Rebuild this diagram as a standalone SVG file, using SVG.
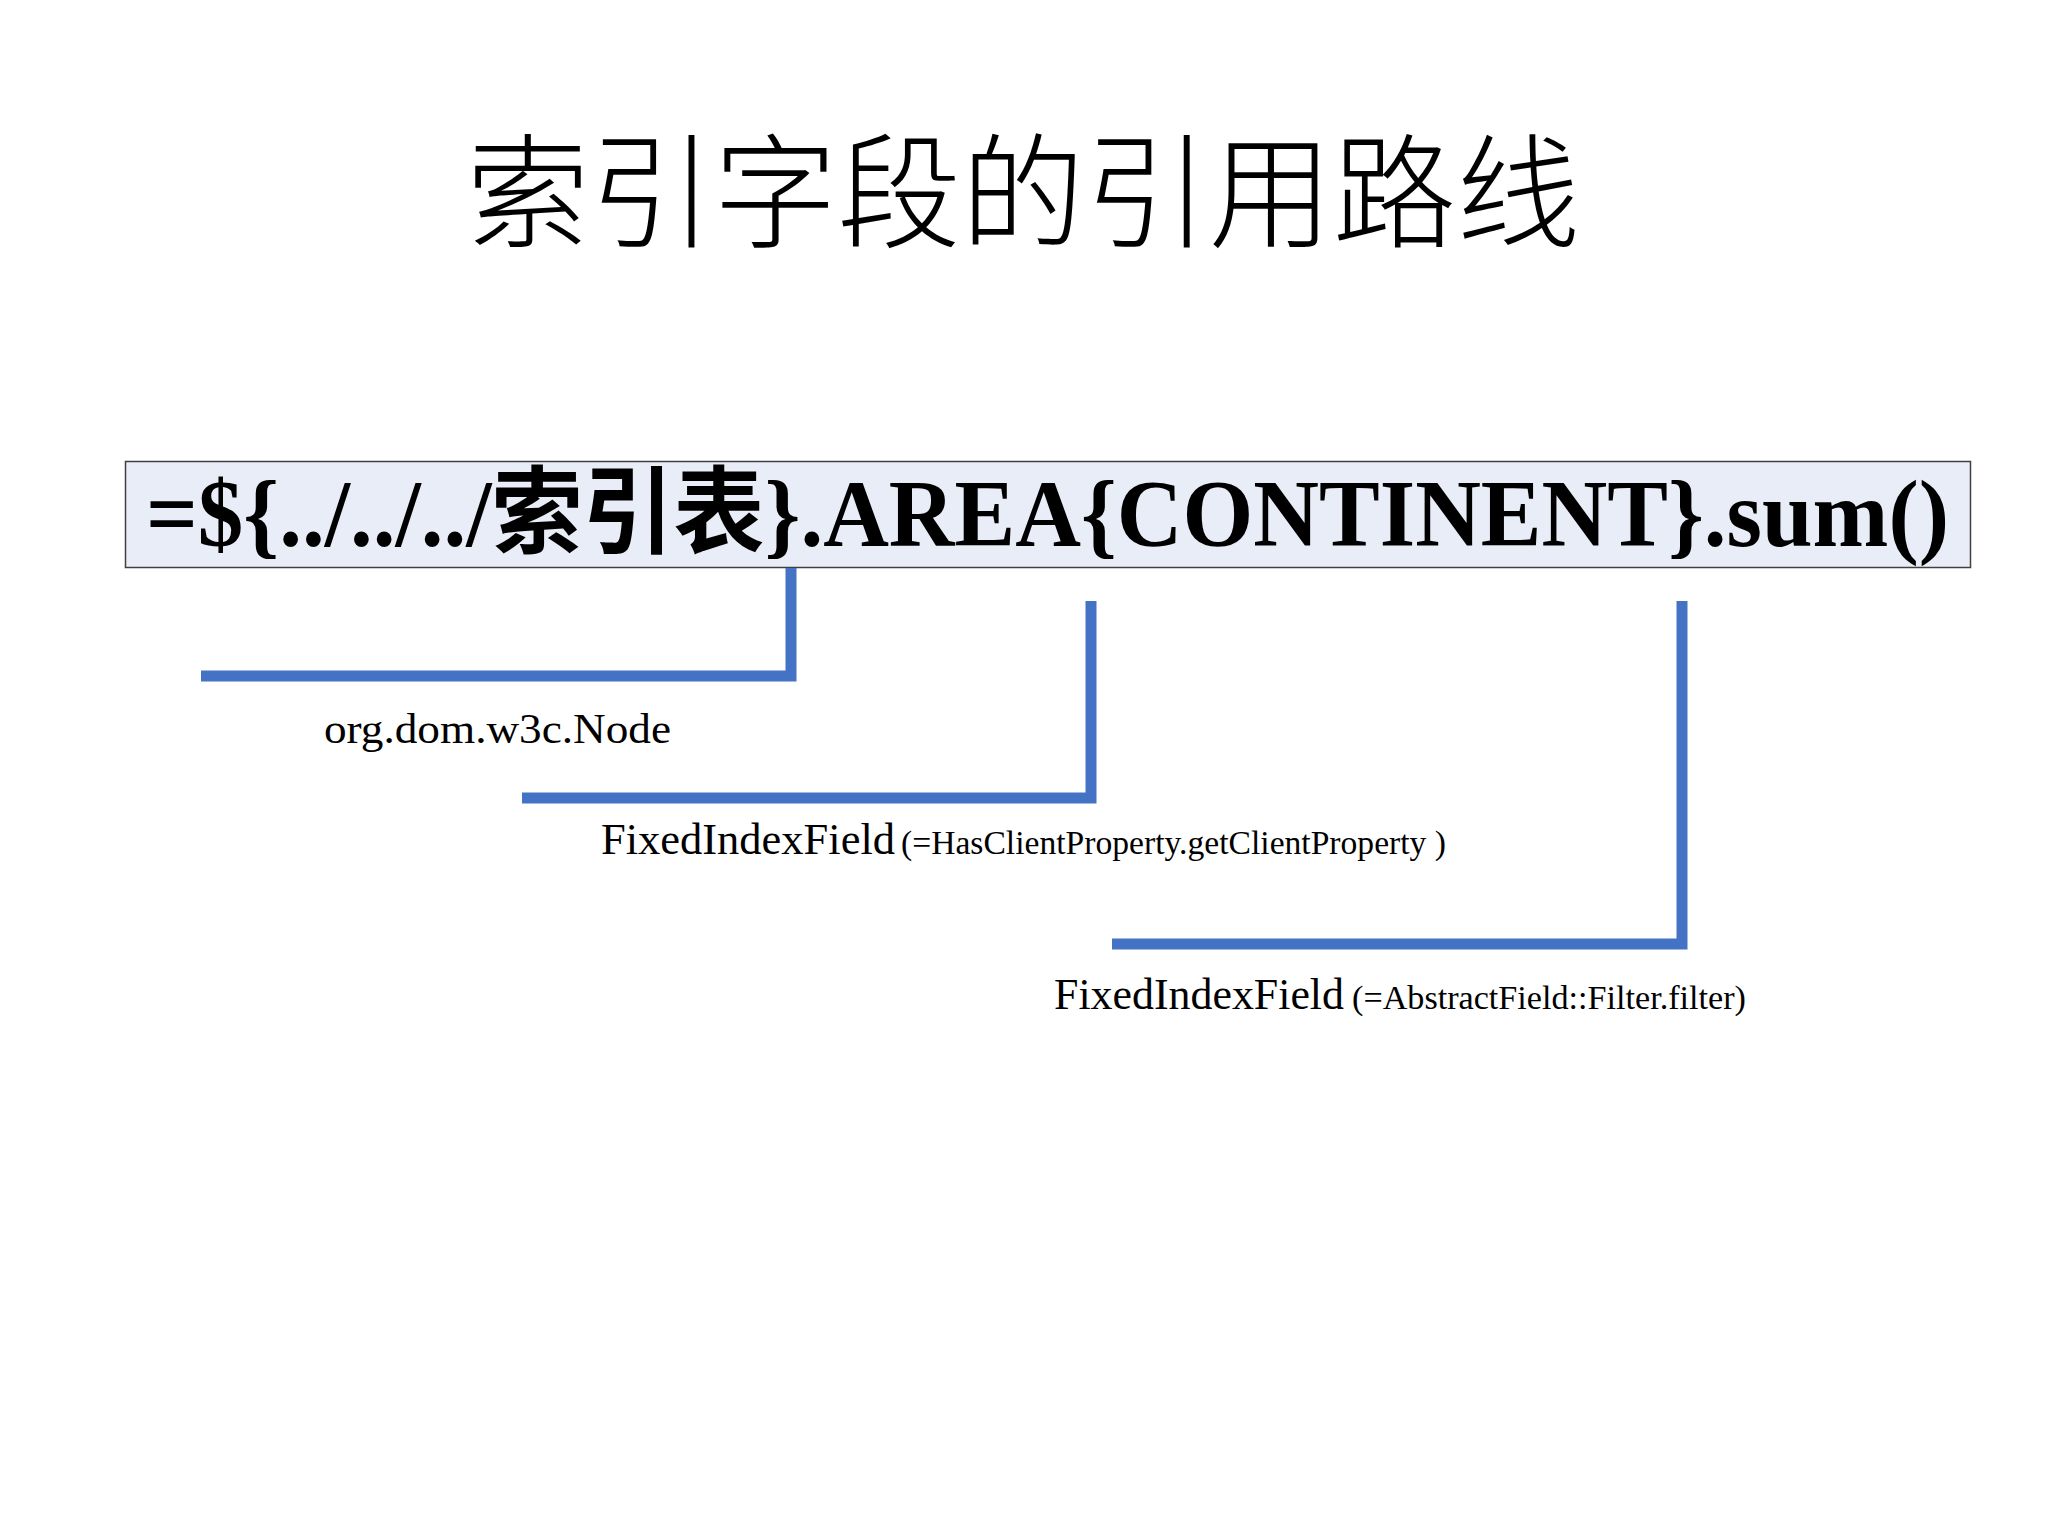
<svg xmlns="http://www.w3.org/2000/svg" width="2048" height="1536" viewBox="0 0 2048 1536">
  <defs>
    <style>
      .serif { font-family: "Liberation Serif", "Noto Sans CJK SC", serif; fill: #000; }
      .title { font-family: "Noto Sans CJK SC", "Noto Sans CJK JP", sans-serif; font-size: 124px; font-weight: 300; fill: #000; }
      .conn { fill: none; stroke: #4472C4; stroke-width: 11; stroke-linejoin: miter; stroke-linecap: butt; }
      .big { font-size: 44px; }
      .small { font-size: 34px; }
    </style>
  </defs>
  <rect x="0" y="0" width="2048" height="1536" fill="#ffffff"/>

  <g id="title">
    <text class="title" x="466" y="238" textLength="1114" lengthAdjust="spacingAndGlyphs">索引字段的引用路线</text>
  </g>

  <g id="formula">
    <rect x="125.5" y="461.5" width="1845" height="106" fill="#E9EDF7" stroke="#404040" stroke-width="1.5"/>
    <text class="serif" x="146" y="546" font-size="95" font-weight="bold" textLength="1803" lengthAdjust="spacingAndGlyphs">=${../../../索引表}.AREA{CONTINENT}.sum()</text>
  </g>

  <g id="connectors">
    <polyline class="conn" points="791,568 791,676 201,676"/>
    <polyline class="conn" points="1091,601 1091,798 522,798"/>
    <polyline class="conn" points="1682,601 1682,944 1112,944"/>
  </g>

  <g id="label-node">
    <text class="serif" x="324" y="743" font-size="43" textLength="347" lengthAdjust="spacingAndGlyphs">org.dom.w3c.Node</text>
  </g>

  <g id="label-fixed1">
    <text class="serif big" x="601" y="854" textLength="294" lengthAdjust="spacingAndGlyphs">FixedIndexField</text>
    <text class="serif small" x="901" y="854" textLength="545" lengthAdjust="spacingAndGlyphs">(=HasClientProperty.getClientProperty )</text>
  </g>

  <g id="label-fixed2">
    <text class="serif big" x="1054" y="1009" textLength="290" lengthAdjust="spacingAndGlyphs">FixedIndexField</text>
    <text class="serif small" x="1352" y="1009" textLength="394" lengthAdjust="spacingAndGlyphs">(=AbstractField::Filter.filter)</text>
  </g>
</svg>
